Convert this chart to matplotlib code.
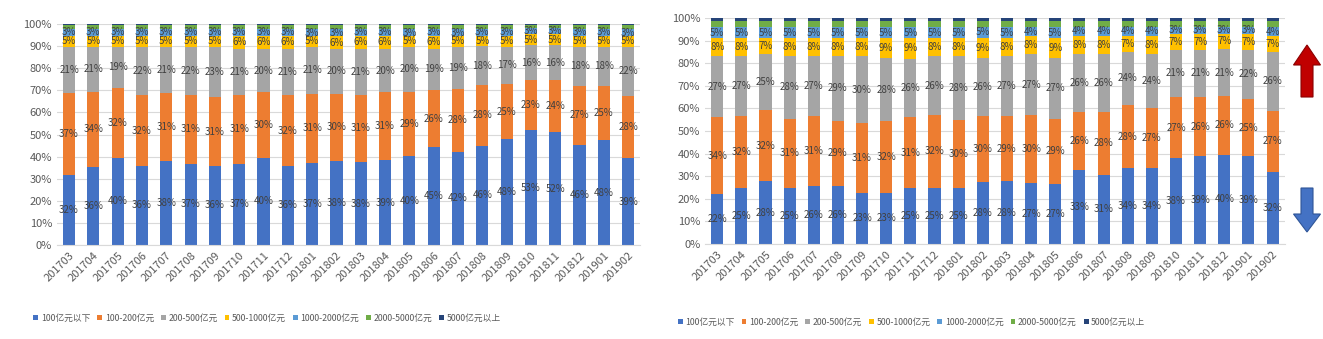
import matplotlib
matplotlib.use("Agg")
import matplotlib.pyplot as plt
import numpy as np
from matplotlib.patches import FancyArrow

plt.rcParams['font.family'] = ['Noto Sans CJK SC', 'DejaVu Sans']

# categories
months = ["201703", "201704", "201705", "201706", "201707", "201708", "201709", "201710",
          "201711", "201712", "201801", "201802", "201803", "201804", "201805", "201806",
          "201807", "201808", "201809", "201810", "201811", "201812", "201901", "201902"]

series_names = ["100亿元以下", "100-200亿元", "200-500亿元", "500-1000亿元",
                "1000-2000亿元", "2000-5000亿元", "5000亿元以上"]
colors = ["#4472C4", "#ED7D31", "#A5A5A5", "#FFC000", "#5B9BD5", "#70AD47", "#264478"]

# left panel
left_lt100 = [32, 36, 40, 36, 38, 37, 36, 37, 40, 36, 37, 38, 38, 39, 40, 45, 42, 46, 48, 53, 52, 46, 48, 39]
left_100_200 = [37, 34, 32, 32, 31, 31, 31, 31, 30, 32, 31, 30, 31, 31, 29, 26, 28, 28, 25, 23, 24, 27, 25, 28]
left_200_500 = [21, 21, 19, 22, 21, 22, 23, 21, 20, 21, 21, 20, 21, 20, 20, 19, 19, 18, 17, 16, 16, 18, 18, 22]
left_500_1000 = [5, 5, 5, 5, 5, 5, 5, 6, 6, 6, 5, 6, 6, 6, 5, 6, 5, 5, 5, 5, 5, 5, 5, 5]
left_1000_2000 = [3, 3, 3, 3, 3, 3, 3, 3, 3, 3, 3, 3, 3, 3, 3, 3, 3, 3, 3, 3, 3, 3, 3, 3]
left_2000_5000 = [2, 2, 2, 2, 2, 2, 2, 2, 2, 2, 2, 2, 2, 2, 2, 2, 2, 2, 2, 1.5, 1.5, 2, 2, 2]
left_gt5000 = [0.3] * 24

# right panel
right_lt100 = [22, 25, 28, 25, 26, 26, 23, 23, 25, 25, 25, 28, 28, 27, 27, 33, 31, 34, 34, 38, 39, 40, 39, 32]
right_100_200 = [34, 32, 32, 31, 31, 29, 31, 32, 31, 32, 30, 30, 29, 30, 29, 26, 28, 28, 27, 27, 26, 26, 25, 27]
right_200_500 = [27, 27, 25, 28, 27, 29, 30, 28, 26, 26, 28, 26, 27, 27, 27, 26, 26, 24, 24, 21, 21, 21, 22, 26]
right_500_1000 = [8, 8, 7, 8, 8, 8, 8, 9, 9, 8, 8, 9, 8, 8, 9, 8, 8, 7, 8, 7, 7, 7, 7, 7]
right_1000_2000 = [5, 5, 5, 5, 5, 5, 5, 5, 5, 5, 5, 5, 5, 4, 5, 4, 4, 4, 4, 3, 3, 3, 3, 4]
right_2000_5000 = [2.5] * 24
right_gt5000 = [1.5] * 24

left_data = [left_lt100, left_100_200, left_200_500, left_500_1000,
             left_1000_2000, left_2000_5000, left_gt5000]
right_data = [right_lt100, right_100_200, right_200_500, right_500_1000,
              right_1000_2000, right_2000_5000, right_gt5000]

TXT = "#404040"
AX = "#595959"


def draw_panel(ax, data):
    arr = np.array(data, dtype=float)
    pct = arr / arr.sum(axis=0) * 100
    x = np.arange(len(months))
    bottom = np.zeros(len(months))
    for i, (vals, raw) in enumerate(zip(pct, arr)):
        ax.bar(x, vals, 0.5, bottom=bottom, color=colors[i], label=series_names[i], zorder=2)
        if i < 5:
            for xi, b, v, r in zip(x, bottom, vals, raw):
                ax.text(xi, b + v / 2, f"{int(round(r))}%", ha="center", va="center",
                        fontsize=7, color=TXT, zorder=3)
        bottom += vals
    ax.set_xlim(-0.5, len(months) - 0.5)
    ax.set_ylim(0, 100)
    ax.set_yticks(np.arange(0, 101, 10))
    ax.set_yticklabels([f"{v}%" for v in range(0, 101, 10)])
    ax.set_xticks(x)
    ax.set_xticklabels(months, rotation=45, ha="right", rotation_mode="anchor")
    ax.tick_params(axis="both", length=0, labelsize=8, colors=AX)
    ax.grid(axis="y", color="#D9D9D9", linewidth=0.8, zorder=0)
    for s in ["top", "right", "left"]:
        ax.spines[s].set_visible(False)
    ax.spines["bottom"].set_color("#D9D9D9")


fig = plt.figure(figsize=(13.23, 3.39), dpi=100)
ax1 = fig.add_axes([0.043, 0.277, 0.441, 0.652])
ax2 = fig.add_axes([0.533, 0.280, 0.438, 0.667])

draw_panel(ax1, left_data)
draw_panel(ax2, right_data)

for ax, anchor in [(ax1, (0.202, 0.062)), (ax2, (0.689, 0.050))]:
    ax.legend(loc="center", bbox_to_anchor=anchor, bbox_transform=fig.transFigure,
              ncol=7, frameon=False, fontsize=6.3, handlelength=0.55, handleheight=0.55,
              handletextpad=0.3, columnspacing=0.8, labelcolor=AX)

# arrows drawn in pixel space
over = fig.add_axes([0, 0, 1, 1], zorder=5)
over.set_xlim(0, 1323)
over.set_ylim(339, 0)
over.axis("off")
over.add_patch(FancyArrow(1307, 97, 0, -52, width=12, head_width=27, head_length=20,
                          length_includes_head=True, facecolor="#C00000", edgecolor="#8B0000",
                          linewidth=0.8))
over.add_patch(FancyArrow(1307, 188, 0, 44, width=12, head_width=27, head_length=18,
                          length_includes_head=True, facecolor="#4472C4", edgecolor="#2F5597",
                          linewidth=0.8))

fig.savefig("out.png", dpi=100)
